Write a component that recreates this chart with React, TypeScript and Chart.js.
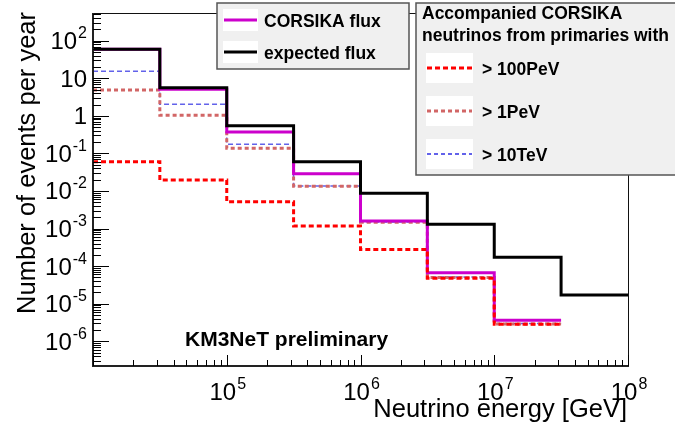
import React, { useEffect, useRef } from "react";
import { Chart, registerables } from "chart.js";

Chart.register(...registerables);

// ---- data ----
const binEdges = [1e4, 3.16e4, 1e5, 3.16e5, 1e6, 3.16e6, 1e7, 3.16e7, 1e8];
const expectedFlux = [59, 5.6, 0.547, 0.06, 0.0087, 1.3e-3, 1.72e-4, 1.71e-5];
const corsikaFlux = [59, 5.1, 0.372, 0.0289, 1.59e-3, 6.7e-5, 3.63e-6];
const nuAbove100PeV = [0.06, 0.0196, 5.2e-3, 1.17e-3, 2.78e-4, 4.75e-5, 2.85e-6];
const nuAbove1PeV = [4.88, 1.03, 0.137, 0.0134, 1.47e-3, 5.0e-5, 2.9e-6];
const nuAbove10TeV = [15.3, 2.03, 0.175, 0.0136, 1.5e-3, 5.15e-5, 2.99e-6];

const xTickExponents = [5, 6, 7, 8];
const yTickExponents = [-6, -5, -4, -3, -2, -1, 0, 1, 2];

const xTitle = "Neutrino energy [GeV]";
const yTitle = "Number of events per year";
const mainLegendLabels = ["CORSIKA flux", "expected flux"];
const nuLegendHeader = ["Accompanied CORSIKA", "neutrinos from primaries with"];
const nuLegendLabels = ["> 100PeV", "> 1PeV", "> 10TeV"];
const watermark = "KM3NeT preliminary";

const X_MIN = 1e4;
const X_MAX = 1e8;
const Y_MIN = 2.2e-7;
const Y_MAX = 546;

const FONT = '"Liberation Sans", Arial, Helvetica, sans-serif';

const COLORS = {
  expected: "#000000",
  corsika: "#cc00cc",
  nu100PeV: "#ff0000",
  nu1PeV: "#d26666",
  nu10TeV: "#6262ea",
};

function steps(values: number[]) {
  const pts: { x: number; y: number }[] = [];
  values.forEach((v, i) => {
    pts.push({ x: binEdges[i], y: v });
    pts.push({ x: binEdges[i + 1], y: v });
  });
  return pts;
}

function drawPow(
  ctx: CanvasRenderingContext2D,
  exp: number,
  x: number,
  y: number,
  align: "right" | "center"
) {
  const baseSize = 24;
  const supSize = 16;
  const base = exp === 0 ? "1" : "10";
  const sup = exp === 0 || exp === 1 ? "" : String(exp);
  ctx.font = `${baseSize}px ${FONT}`;
  const bw = ctx.measureText(base).width;
  ctx.font = `${supSize}px ${FONT}`;
  const sw = sup ? ctx.measureText(sup).width + 1 : 0;
  const total = bw + sw;
  const x0 = align === "right" ? x - total : x - total / 2;
  ctx.textAlign = "left";
  ctx.textBaseline = "alphabetic";
  ctx.font = `${baseSize}px ${FONT}`;
  ctx.fillText(base, x0, y);
  if (sup) {
    ctx.font = `${supSize}px ${FONT}`;
    ctx.fillText(sup, x0 + bw + 1, y - 11);
  }
}

function sampleLine(
  ctx: CanvasRenderingContext2D,
  x1: number,
  x2: number,
  y: number,
  color: string,
  width: number,
  dash: number[]
) {
  ctx.save();
  ctx.strokeStyle = color;
  ctx.lineWidth = width;
  ctx.setLineDash(dash);
  ctx.beginPath();
  ctx.moveTo(x1, y);
  ctx.lineTo(x2, y);
  ctx.stroke();
  ctx.restore();
}

const overlayPlugin = {
  id: "rootOverlay",
  afterDraw(chart: any) {
    const ctx: CanvasRenderingContext2D = chart.ctx;
    const { left, right, top, bottom } = chart.chartArea;
    const xs = chart.scales.x;
    const ys = chart.scales.y;
    ctx.save();

    // frame
    ctx.strokeStyle = "#111";
    ctx.lineWidth = 1;
    ctx.beginPath();
    ctx.moveTo(left, top + 0.5);
    ctx.lineTo(right + 0.5, top + 0.5);
    ctx.lineTo(right + 0.5, bottom);
    ctx.stroke();
    ctx.lineWidth = 2;
    ctx.strokeStyle = "#222";
    ctx.beginPath();
    ctx.moveTo(left, top);
    ctx.lineTo(left, bottom);
    ctx.lineTo(right + 1, bottom);
    ctx.stroke();

    // y ticks
    ctx.lineWidth = 1;
    ctx.strokeStyle = "#000";
    for (let k = -8; k <= 3; k++) {
      for (let m = 1; m <= 9; m++) {
        const v = m * Math.pow(10, k);
        if (v < Y_MIN || v > Y_MAX) continue;
        const py = Math.round(ys.getPixelForValue(v)) + 0.5;
        const len = m === 1 ? 16 : 8;
        ctx.beginPath();
        ctx.moveTo(left, py);
        ctx.lineTo(left + len, py);
        ctx.stroke();
      }
    }
    // x ticks
    for (let k = 4; k <= 8; k++) {
      for (let m = 1; m <= 9; m++) {
        const v = m * Math.pow(10, k);
        if (v < X_MIN || v > X_MAX) continue;
        const px = Math.round(xs.getPixelForValue(v)) + 0.5;
        const len = m === 1 ? 11 : 6;
        ctx.beginPath();
        ctx.moveTo(px, bottom);
        ctx.lineTo(px, bottom - len);
        ctx.stroke();
      }
    }

    // tick labels
    ctx.fillStyle = "#000";
    yTickExponents.forEach((e) => {
      const py = ys.getPixelForValue(Math.pow(10, e));
      drawPow(ctx, e, 87, py + 8.5, "right");
    });
    xTickExponents.forEach((e) => {
      const px = xs.getPixelForValue(Math.pow(10, e));
      drawPow(ctx, e, px + 1, 400, "center");
    });

    // axis titles
    ctx.font = `25.5px ${FONT}`;
    ctx.textAlign = "right";
    ctx.textBaseline = "alphabetic";
    ctx.fillText(xTitle, 627, 416.5);
    ctx.save();
    ctx.translate(34.5, 12);
    ctx.rotate(-Math.PI / 2);
    ctx.textAlign = "right";
    ctx.fillText(yTitle, 0, 0);
    ctx.restore();

    // watermark
    ctx.font = `bold 21px ${FONT}`;
    ctx.textAlign = "left";
    ctx.fillText(watermark, 185, 346);

    // legend 1
    ctx.fillStyle = "#f0f0f0";
    ctx.fillRect(217, 3, 192, 66);
    ctx.strokeStyle = "#555";
    ctx.lineWidth = 1.5;
    ctx.strokeRect(217, 3, 192, 66);
    ctx.fillStyle = "#fff";
    ctx.fillRect(223, 9, 35, 22);
    ctx.fillRect(223, 41, 35, 22);
    sampleLine(ctx, 224, 257, 20, COLORS.corsika, 3, []);
    sampleLine(ctx, 224, 257, 52, COLORS.expected, 3, []);
    ctx.fillStyle = "#000";
    ctx.font = `bold 17.5px ${FONT}`;
    ctx.textAlign = "left";
    ctx.fillText(mainLegendLabels[0], 264, 27);
    ctx.fillText(mainLegendLabels[1], 264, 58.5);

    // legend 2
    ctx.fillStyle = "#f0f0f0";
    ctx.fillRect(416, 3, 270, 172);
    ctx.strokeStyle = "#555";
    ctx.lineWidth = 1.5;
    ctx.strokeRect(416, 3, 270, 172);
    ctx.fillStyle = "#000";
    ctx.font = `bold 17.5px ${FONT}`;
    ctx.fillText(nuLegendHeader[0], 422, 19);
    ctx.fillText(nuLegendHeader[1], 422, 40.5);
    const ys2 = [68, 111, 154];
    const styles = [
      { c: COLORS.nu100PeV, w: 3, d: [5, 3] },
      { c: COLORS.nu1PeV, w: 3, d: [4, 3] },
      { c: COLORS.nu10TeV, w: 2, d: [4, 3] },
    ];
    ys2.forEach((yy, i) => {
      ctx.fillStyle = "#fff";
      ctx.fillRect(426, yy - 15, 47, 30);
      sampleLine(ctx, 427, 472, yy, styles[i].c, styles[i].w, styles[i].d);
      ctx.fillStyle = "#000";
      ctx.font = `bold 17.5px ${FONT}`;
      ctx.fillText(nuLegendLabels[i], 482, yy + 6.5);
    });

    ctx.restore();
  },
};

export default function App() {
  const ref = useRef<HTMLCanvasElement | null>(null);

  useEffect(() => {
    if (!ref.current) return;
    const chart = new Chart(ref.current, {
      type: "line",
      data: {
        datasets: [
          {
            label: "expected flux",
            data: steps(expectedFlux),
            borderColor: COLORS.expected,
            borderWidth: 3,
          },
          {
            label: "> 100PeV",
            data: steps(nuAbove100PeV),
            borderColor: COLORS.nu100PeV,
            borderWidth: 3,
            borderDash: [5, 3],
          },
          {
            label: "CORSIKA flux",
            data: steps(corsikaFlux),
            borderColor: COLORS.corsika,
            borderWidth: 3,
          },
          {
            label: "> 1PeV",
            data: steps(nuAbove1PeV),
            borderColor: COLORS.nu1PeV,
            borderWidth: 3,
            borderDash: [4, 3],
          },
          {
            label: "> 10TeV",
            data: steps(nuAbove10TeV),
            borderColor: COLORS.nu10TeV,
            borderWidth: 1.5,
            borderDash: [5, 3],
          },
        ] as any,
      },
      options: {
        animation: false,
        responsive: false,
        devicePixelRatio: 1,
        layout: { padding: { left: 93, top: 13, right: 47, bottom: 63 } },
        elements: {
          point: { radius: 0, hoverRadius: 0 },
          line: { tension: 0, fill: false, borderCapStyle: "butt", borderJoinStyle: "miter" },
        },
        plugins: { legend: { display: false }, tooltip: { enabled: false } },
        events: [],
        scales: {
          x: { type: "logarithmic", min: X_MIN, max: X_MAX, display: false },
          y: { type: "logarithmic", min: Y_MIN, max: Y_MAX, display: false },
        },
      } as any,
      plugins: [overlayPlugin],
    });
    return () => chart.destroy();
  }, []);

  return (
    <div style={{ position: "absolute", left: 0, top: 0, width: 675, height: 429, background: "#fff" }}>
      <canvas ref={ref} width={675} height={429} style={{ display: "block" }} />
    </div>
  );
}
